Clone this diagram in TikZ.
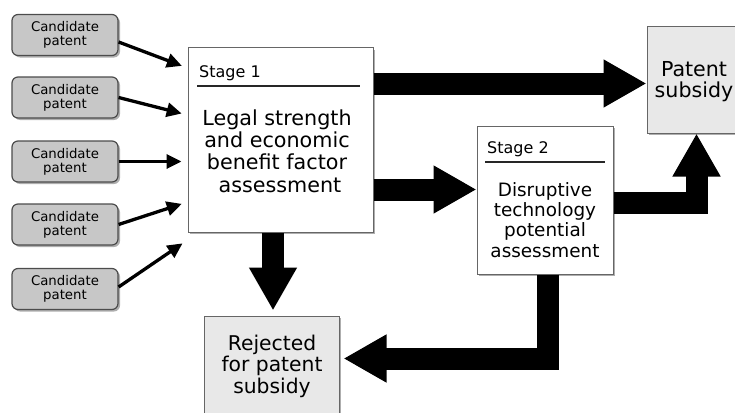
\documentclass[tikz,border=0pt]{standalone}
\usepackage{fontspec}
\setmainfont{DejaVu Sans}
\usetikzlibrary{arrows.meta,shadows,calc}
\begin{document}
\begin{tikzpicture}[x=1pt,y=-1pt,
  shad/.style={drop shadow={shadow xshift=2pt, shadow yshift=-2pt, fill=black!45, opacity=0.7}},
  cand/.style={shad, draw=black!70, line width=1.2pt, fill=black!22, rounded corners=6pt,
    minimum width=106pt, minimum height=41pt, inner sep=0pt, align=center,
    font=\fontsize{13.3}{14}\selectfont},
  stagebox/.style={shad, draw=black!60, line width=1pt, fill=white, inner sep=0pt},
  endbox/.style={shad, draw=black!60, line width=1pt, fill=black!9, inner sep=0pt},
  title/.style={anchor=base west, inner sep=0pt, font=\fontsize{16}{18}\selectfont},
  rulel/.style={line width=2pt, black!85},
  smallarr/.style={line width=3.3pt, -{Triangle[length=15pt,width=14pt]}, shorten >=6pt},
  bigarr/.style={line width=22pt, -{Triangle[length=43pt,width=45pt]}, line join=miter},
]
\useasboundingbox (0,0) rectangle (735,412);
\clip (0,0) rectangle (735,412);

% candidate boxes
\node[cand] (c1) at (65,35) {Candidate\\patent};
\node[cand] (c2) at (65,97.5) {Candidate\\patent};
\node[cand] (c3) at (65,161.5) {Candidate\\patent};
\node[cand] (c4) at (65,224.5) {Candidate\\patent};
\node[cand] (c5) at (65,289) {Candidate\\patent};

% stage 1
\node[stagebox, minimum width=185pt, minimum height=184pt] (s1) at (280.5,140) {};
\node[title] (s1t) at (199,77) {Stage 1};
\coordinate (s1ra) at (197,86);
\coordinate (s1rb) at (360,86);
\draw[rulel] (s1ra) -- (s1rb);
\node[anchor=base, inner sep=0pt, align=center, font=\fontsize{20.7}{22.3}\selectfont] (s1b) at (277,192)
  {Legal strength\\and economic\\benefit factor\\\hspace*{6pt}assessment};

% stage 2
\node[stagebox, minimum width=136pt, minimum height=148pt] (s2) at (545,200) {};
\node[title] (s2t) at (487,153) {Stage 2};
\coordinate (s2ra) at (485,162);
\coordinate (s2rb) at (605,162);
\draw[rulel] (s2ra) -- (s2rb);
\node[anchor=base, inner sep=0pt, align=center, font=\fontsize{18.4}{20.3}\selectfont] (s2b) at (545,257)
  {Disruptive\\technology\\potential\\assessment};

% end boxes
\node[endbox, minimum width=100pt, minimum height=106pt] (ps) at (697,80) {};
\node[anchor=base, inner sep=0pt, align=center, font=\fontsize{20.6}{20.5}\selectfont] (pst) at (694,97)
  {Patent\\subsidy};
\node[endbox, minimum width=135pt, minimum height=110pt] (rej) at (271.5,371) {};
\node[anchor=base, inner sep=0pt, align=center, font=\fontsize{20.3}{21.5}\selectfont] (rejt) at (272,393)
  {Rejected\\for patent\\subsidy};

% small arrows
\draw[smallarr] ($(c1.east)+(0,7)$) -- (s1.west |- 0,68);
\draw[smallarr] (c2.east) -- (s1.west |- 0,115);
\draw[smallarr] (c3.east) -- (s1.west |- 0,161.5);
\draw[smallarr] (c4.east) -- (s1.west |- 0,202);
\draw[smallarr] ($(c5.east)+(0,-2)$) -- (s1.west |- 0,240);

% big arrows
\draw[bigarr] (s1.east |- 0,83.5) -- (ps.west |- 0,83.5);
\draw[bigarr] (s1.east |- 0,189.5) -- (s2.west |- 0,189.5);
\draw[bigarr, shorten >=5pt] (s1.south -| 273,0) -- (rej.north -| 273,0);
\draw[bigarr] (s2.east |- 0,202.5) -| (ps.south -| 696.5,0);
\draw[bigarr, shorten >=4pt] (s2.south -| 548,0) |- (rej.east |- 0,358.5);
\end{tikzpicture}
\end{document}
